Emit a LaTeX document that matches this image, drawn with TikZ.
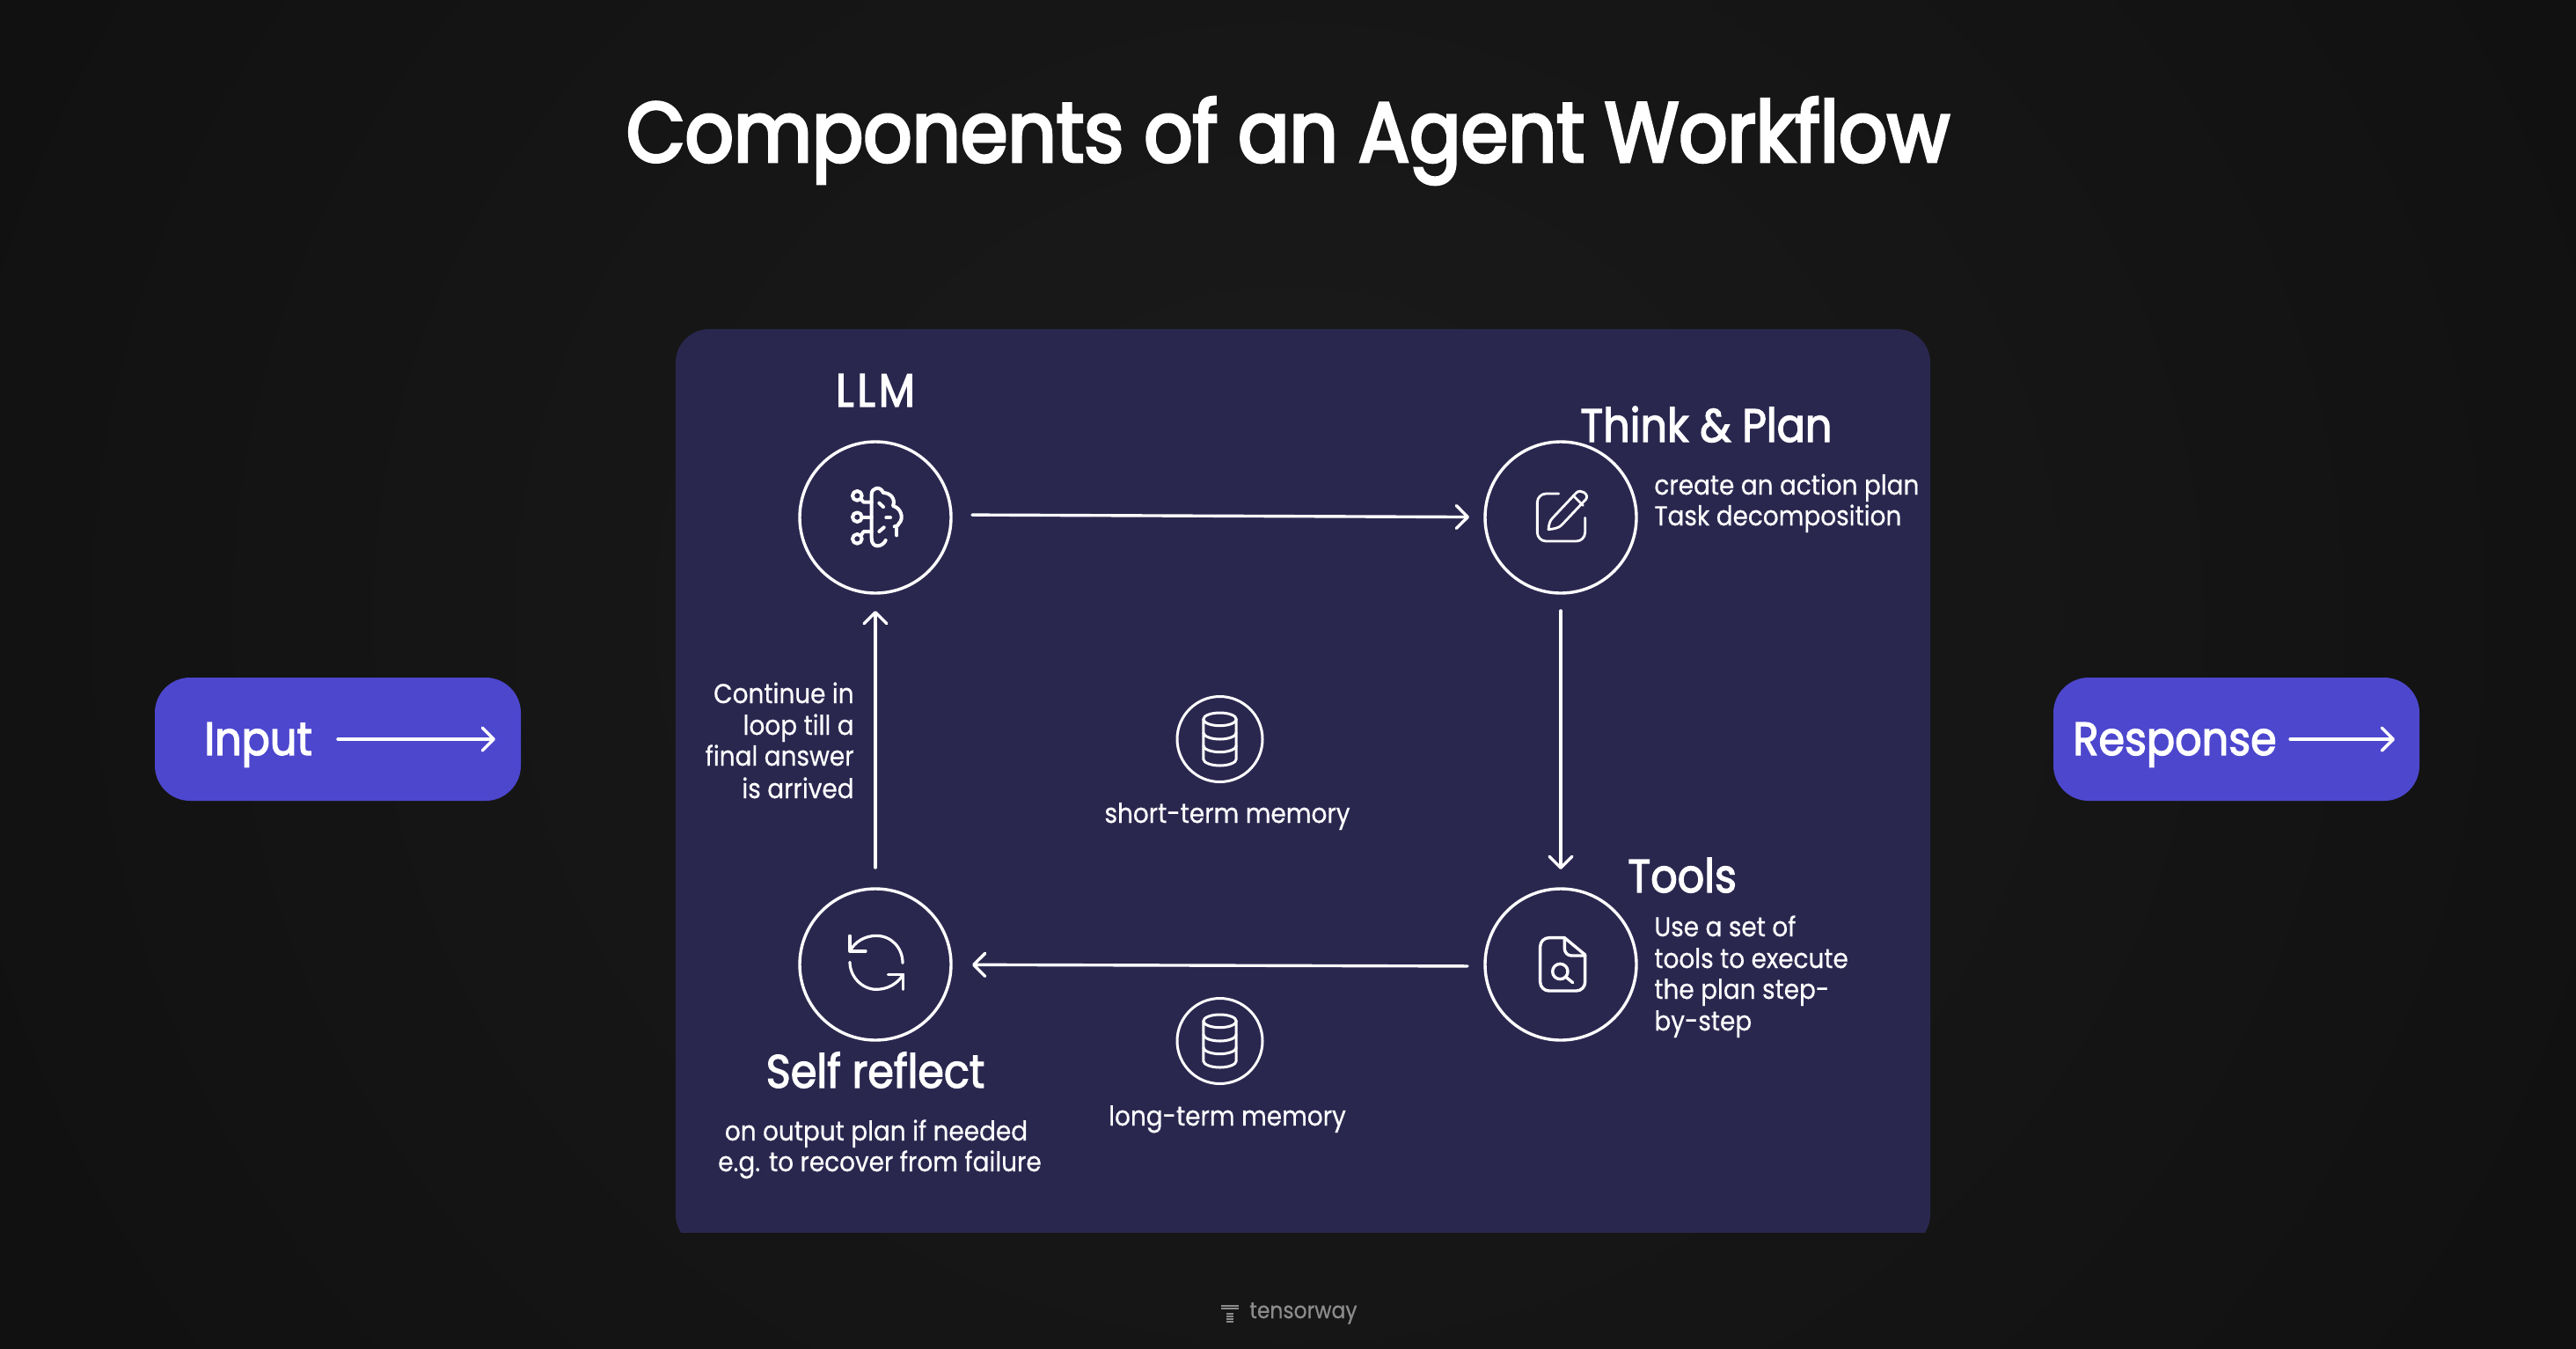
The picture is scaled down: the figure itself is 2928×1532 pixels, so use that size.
\documentclass[tikz,border=0pt]{standalone}
\usepackage{fontspec}
\setmainfont{Poppins}[FakeStretch=0.9,FakeBold=0.5]
\newfontfamily\heavyfont{Poppins}[FakeStretch=0.9,FakeBold=3.6]
\newfontfamily\medfont{Poppins}[FakeStretch=0.9,FakeBold=2.4]
\usetikzlibrary{arrows.meta,shadings}
\definecolor{bgedge}{HTML}{111111}
\definecolor{bgmid}{HTML}{1B1B1B}
\definecolor{panelc}{HTML}{2A274F}
\definecolor{boxc}{HTML}{4D47CE}
\definecolor{logoc}{HTML}{8C8C8C}
\tikzset{
  x=0.5pt,y=-0.5pt,
  wire/.style={draw=white,line width=1.7pt,line cap=round,line join=round},
  flow/.style={wire,-{Straight Barb[length=6.5pt,width=13pt,line cap=round,line join=round]}},
  ring/.style={circle,draw=white,line width=1.7pt,minimum size=86pt,inner sep=0pt,outer sep=0pt},
  smallring/.style={circle,draw=white,line width=1.5pt,minimum size=48.5pt,inner sep=0pt,outer sep=0pt},
  icon/.style={draw=white,line width=1.7pt,line cap=round,line join=round},
  pillbox/.style={draw=none,fill=boxc,rounded corners=20pt,minimum width=208pt,minimum height=70pt,inner sep=0pt},
  head/.style={text=white,font=\medfont\fontsize{26.5}{30}\selectfont,inner sep=0pt},
  body/.style={text=white,font=\fontsize{15.5}{18}\selectfont,inner sep=0pt,align=left},
  dbicon/.pic={
    \begin{scope}[x=0.16667pt,y=-0.16667pt]
      \draw[icon,line width=1.5pt] (0,-68) ellipse [x radius=56,y radius=22];
      \draw[icon,line width=1.5pt] (-56,-68) -- (-56,68) .. controls (-56,80) and (-30,90) .. (0,90) .. controls (30,90) and (56,80) .. (56,68) -- (56,-68);
      \draw[icon,line width=1.5pt] (-56,-22) .. controls (-56,-10) and (-30,0) .. (0,0) .. controls (30,0) and (56,-10) .. (56,-22);
      \draw[icon,line width=1.5pt] (-56,22) .. controls (-56,34) and (-30,44) .. (0,44) .. controls (30,44) and (56,34) .. (56,22);
    \end{scope}
  }
}
\begin{document}
\begin{tikzpicture}
\useasboundingbox (0,0) rectangle (2928,1532);
\fill[bgedge] (-8,-8) rectangle (2936,1540);
\shade[inner color=bgmid,outer color=bgedge,shading=radial] (1464,700) ellipse [x radius=1600,y radius=1500];
\begin{scope}
  \clip (760,360) rectangle (2200,1400);
  \fill[panelc,rounded corners=19pt] (768,374) rectangle (2194,1418);
\end{scope}

% buttons
\node[pillbox] (inbox) at (384,840) {};
\node[pillbox] (outbox) at (2542,840) {};
\node[head,anchor=base west] (intext) at (232,858) {Input};
\node[head,anchor=base west] (outtext) at (2356,858) {Response};
\coordinate (intail) at (384,840);
\coordinate (intip) at (563,840);
\coordinate (outtail) at (2603,840);
\coordinate (outtip) at (2722,840);
\draw[flow] (intail) -- (intip);
\draw[flow] (outtail) -- (outtip);

% title
\node[text=white,inner sep=0pt,font=\heavyfont\fontsize{48}{56}\selectfont] (title) at (1464,160) {Components of an Agent Workflow};

% rings
\node[ring] (llm) at (995,588) {};
\node[ring] (plan) at (1774,588) {};
\node[ring] (tools) at (1774,1096) {};
\node[ring] (reflect) at (995,1096) {};
\node[smallring] (short) at (1386.5,840) {};
\node[smallring] (long) at (1386.5,1183) {};
\pic at (short) {dbicon};
\pic at (long) {dbicon};

% connectors
\draw[flow,shorten <=12pt,shorten >=9pt] ([yshift=1.5pt]llm.east) -- (plan);
\draw[flow,shorten <=10pt,shorten >=11pt] (plan.south) -- (tools);
\draw[flow,shorten <=10pt,shorten >=12pt] ([yshift=-1pt]tools.west) -- (reflect);
\draw[flow,shorten <=12pt,shorten >=10pt] (reflect.north) -- (llm);

% brain
\begin{scope}[shift={(880,480)},x=0.16667pt,y=-0.16667pt]
  \begin{scope}[icon,line width=2pt]
  \draw (283,250) circle [radius=16];
  \draw (283,323) circle [radius=16];
  \draw (283,397) circle [radius=16];
  \draw (296,262) -- (305,272) -- (332,272);
  \draw (299,323) -- (332,323);
  \draw (296,385) -- (305,372) -- (332,372);
  \draw (380,402) .. controls (370,425) and (332,432) .. (332,395) -- (332,245)
     .. controls (332,222) and (362,215) .. (372,240)
     .. controls (395,240) and (415,260) .. (405,285)
     .. controls (430,290) and (445,325) .. (425,345)
     .. controls (425,350) and (418,355) .. (410,355);
  \draw (418,362) -- (418,385);
  \draw (358,275) -- (372,288);
  \draw (382,325) -- (396,325);
  \draw (358,372) -- (374,358);
  \end{scope}
\end{scope}

% pencil
\begin{scope}[shift={(1660,480)},x=0.16667pt,y=-0.16667pt]
  \begin{scope}[icon,line width=1.4pt]
  \draw[rounded corners=5pt] (335,243) -- (262,243) -- (262,405) -- (425,405) -- (425,325);
  \draw (300,365) .. controls (302,345) and (305,335) .. (315,325) -- (395,240)
     .. controls (410,225) and (440,245) .. (428,262) -- (345,350)
     .. controls (335,360) and (320,363) .. (300,365) -- cycle;
  \draw (385,250) -- (418,283);
  \end{scope}
\end{scope}

% refresh
\begin{scope}[shift={(880,1000)},x=0.16667pt,y=-0.16667pt]
  \begin{scope}[icon,line width=1.6pt]
  \draw (258,190) -- (258,243) -- (312,243);
  \draw (258,243) .. controls (275,210) and (310,190) .. (348,190) .. controls (400,190) and (438,232) .. (438,283);
  \draw (258,280) .. controls (258,330) and (300,373) .. (348,373) .. controls (385,373) and (420,355) .. (440,322);
  \draw (388,322) -- (440,322) -- (440,373);
  \end{scope}
\end{scope}

% file
\begin{scope}[shift={(1660,1000)},x=0.16667pt,y=-0.16667pt]
  \draw[icon,rounded corners=5pt] (355,197) -- (272,197) -- (272,378) -- (425,378) -- (425,255);
  \draw[icon] (425,255) -- (355,197);
  \draw[icon,rounded corners=4pt] (355,197) -- (355,258) -- (425,258);
  \draw[icon] (340,312) circle [radius=26];
  \draw[icon] (361,332) -- (383,350);
\end{scope}

% headings
\node[head,anchor=base,font=\medfont\fontsize{26.5}{30}\selectfont\addfontfeature{LetterSpace=7}] (llmlabel) at (995,462) {LLM};
\node[head,anchor=base west] (planlabel) at (1796,502) {Think \& Plan};
\node[head,anchor=base west] (toolslabel) at (1850,1014) {Tools};
\node[head,anchor=base] (reflectlabel) at (995,1236) {Self reflect};

% bodies
\node[body,anchor=base west] (plantext1) at (1880,562) {create an action plan};
\node[body,anchor=base west] (plantext2) at (1880,597) {Task decomposition};
\node[body,anchor=base west] (toolstext1) at (1880,1064) {Use a set of};
\node[body,anchor=base west] (toolstext2) at (1880,1100) {tools to execute};
\node[body,anchor=base west] (toolstext3) at (1880,1135) {the plan step-};
\node[body,anchor=base west] (toolstext4) at (1880,1171) {by-step};
\node[body,anchor=base] (reflecttext1) at (996,1296) {on output plan if needed};
\node[body,anchor=base] (reflecttext2) at (1000,1331) {e.g. to recover from failure};
\node[body,anchor=base east] (looptext1) at (971,799) {Continue in};
\node[body,anchor=base east] (looptext2) at (971,835) {loop till a};
\node[body,anchor=base east] (looptext3) at (971,870) {final answer};
\node[body,anchor=base east] (looptext4) at (971,907) {is arrived};
\node[body,anchor=base] (shorttext) at (1395,935) {short-term memory};
\node[body,anchor=base] (longtext) at (1395,1279) {long-term memory};

% footer
\fill[logoc] (1388,1483) rectangle (1408,1484.5);
\fill[logoc] (1388,1486) rectangle (1408,1487.5);
\foreach \yy in {1492,1495,1498,1501} \fill[logoc] (1394,\yy) rectangle (1402,\yy+1.5);
\node[text=logoc,inner sep=0pt,anchor=base west,font=\fontsize{13}{15}\selectfont] (logotext) at (1420,1498) {tensorway};
\end{tikzpicture}
\end{document}
